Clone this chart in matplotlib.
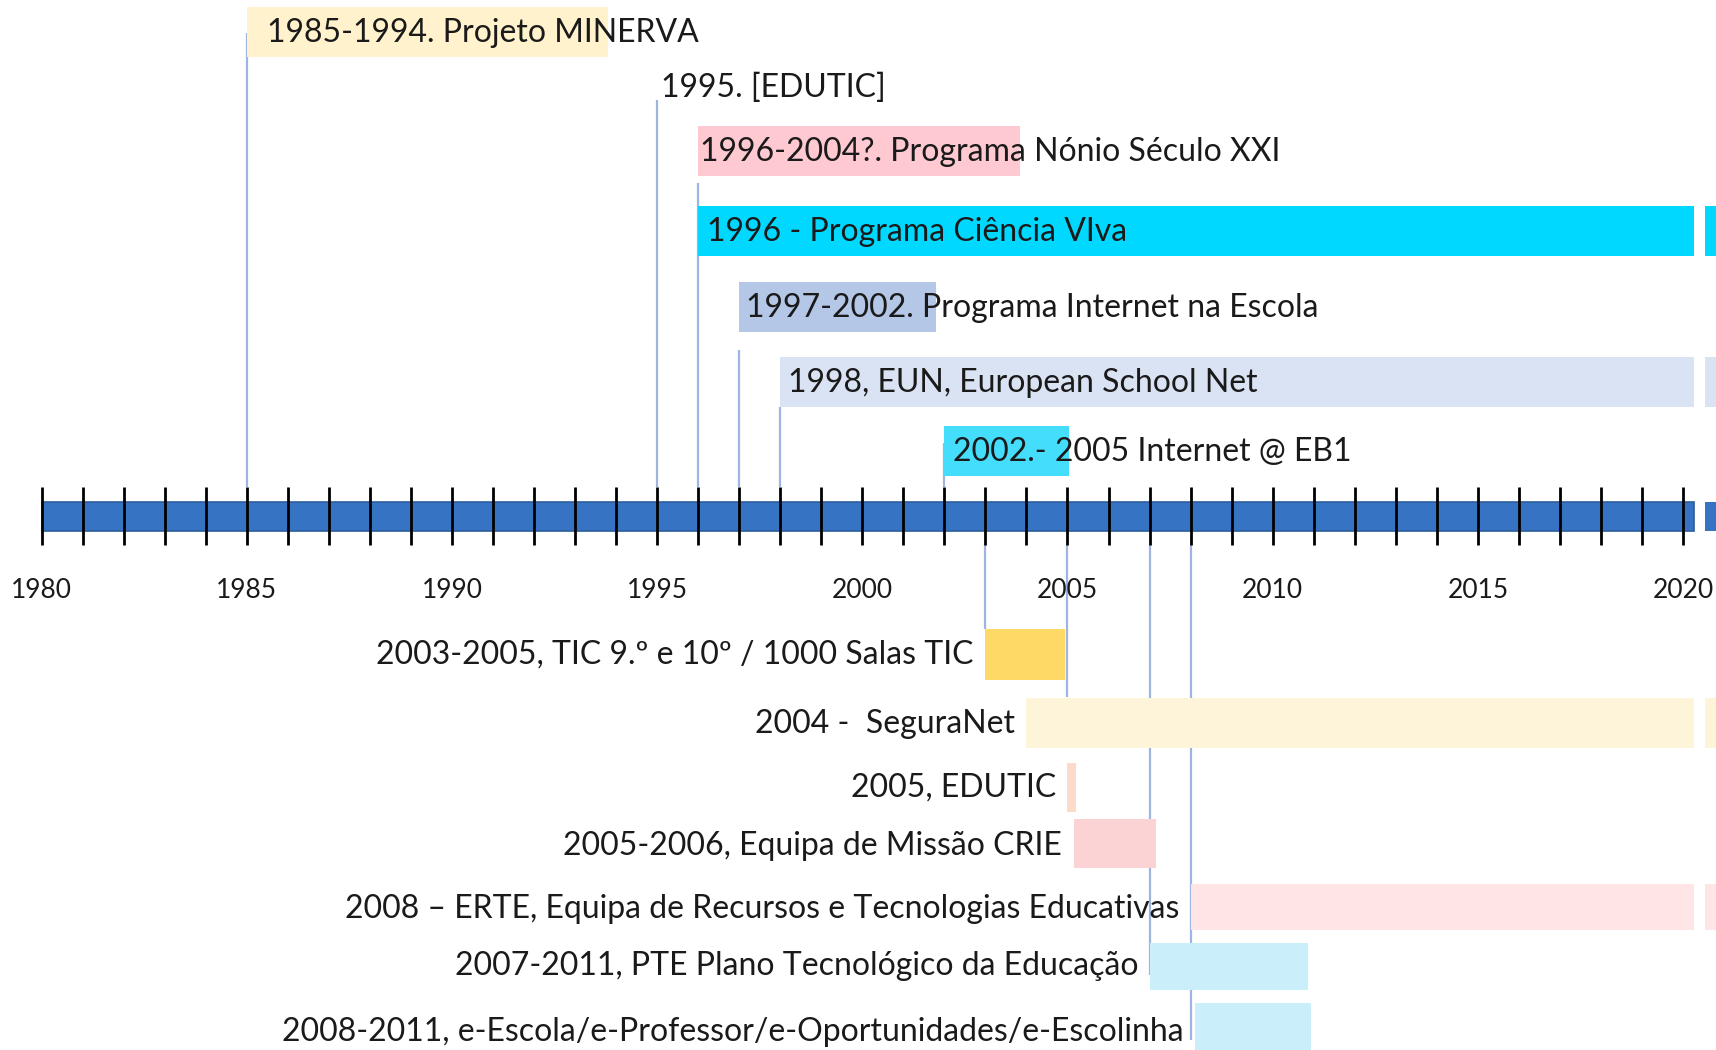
import numpy as np
import matplotlib.pyplot as plt

plt.rcParams['font.family'] = ['Lato', 'DejaVu Sans']

# ---------------------------------
# Data
# ---------------------------------
years = np.arange(1980, 2021)
year_labels = np.arange(1980, 2021, 5)
axis_end = 2020.27  # the timeline is cut off at the right edge

top_labels = [
    "1985-1994. Projeto MINERVA",
    "1995. [EDUTIC]",
    "1996-2004?. Programa Nónio Século XXI",
    "1996 - Programa Ciência VIva",
    "1997-2002. Programa Internet na Escola",
    "1998, EUN, European School Net",
    "2002.- 2005 Internet @ EB1",
]
top_start = [1985, 1995, 1996, 1996, 1997, 1998, 2002]
top_end = [1993.8, 1995, 2003.85, None, 2001.8, None, 2005.03]  # None = still running
top_colors = ["#FFF2CC", None, "#FFC9D1", "#00D8FF", "#B4C7E7", "#DAE3F3", "#44DEFC"]

bot_labels = [
    "2003-2005, TIC 9.º e 10º / 1000 Salas TIC",
    "2004 -  SeguraNet",
    "2005, EDUTIC",
    "2005-2006, Equipa de Missão CRIE",
    "2008 – ERTE, Equipa de Recursos e Tecnologias Educativas",
    "2007-2011, PTE Plano Tecnológico da Educação",
    "2008-2011, e-Escola/e-Professor/e-Oportunidades/e-Escolinha",
]
bot_start = [2003, 2004, 2005, 2005.15, 2008, 2007, 2008.1]
bot_end = [2004.94, None, 2005.2, 2007.15, None, 2010.86, 2010.93]
bot_colors = ["#FFD966", "#FEF4D9", "#FCDCC8", "#FBD3D5", "#FFE5E6", "#CBEFFA", "#CBEFFA"]

bot_line_years = [2003, 2005, 2007, 2008]

# ---------------------------------
# Layout (pixel rows, y grows downward)
# ---------------------------------
W, H = 1716, 1050
px_per_year = (1683 - 41.6) / 40
x_left = 1980 - 41.6 / px_per_year
x_right = x_left + W / px_per_year

axis_y, axis_h = 516, 29
tick_top, tick_bottom = 487, 545
label_y = 590

top_rows = [31.5, 86, 151, 230.5, 307, 382, 450.5]
top_text_y = [33, 88, 152, 232, 308, 383, 452]
top_line_from = [33, 100, 183, None, 350, 407, 443]
top_pad = [0.5, 0.1, 0.05, 0.22, 0.17, 0.2, 0.2]

bot_rows = [654.5, 722.5, 787, 843.5, 907, 966.5, 1027]
bot_heights = [51, 50, 49, 49, 46, 47, 48]
bot_text_y = [655, 724, 788, 846, 909, 966, 1032]
bot_line_to = [629, 697, 975, 1040]

box_h = 50
line_color = "#9DB5E0"
text_color = "#1A1A1A"
fs = 23
sliver = 2020.54

fig = plt.figure(figsize=(W / 100, H / 100), dpi=100)
ax = fig.add_axes([0, 0, 1, 1])
ax.set_xlim(x_left, x_right)
ax.set_ylim(H, 0)
ax.axis("off")

# connector lines (behind boxes)
for x, y0 in zip(top_start, top_line_from):
    if y0 is not None:
        ax.vlines(x, y0, tick_top, color=line_color, lw=1.6, zorder=1)
for x, y1 in zip(bot_line_years, bot_line_to):
    ax.vlines(x, tick_bottom, y1, color=line_color, lw=1.6, zorder=1)

# timeline
ax.barh(axis_y, axis_end - 1980, left=1980, height=axis_h,
        color="#3673C3", edgecolor="#2C5E9E", lw=1.2, zorder=2)
ax.barh(axis_y, 1, left=sliver, height=axis_h, color="#3673C3", zorder=2)
ax.vlines(years, tick_top, tick_bottom, color="black", lw=2, zorder=3)
for y in year_labels:
    ax.text(y, label_y, str(y), ha="center", va="center",
            fontsize=19, color=text_color)


def draw_box(start, end, y, h, color):
    if color is None:
        return
    if end is None:
        ax.barh(y, axis_end - start, left=start, height=h, color=color, zorder=2)
        ax.barh(y, 1, left=sliver, height=h, color=color, zorder=2)
    else:
        ax.barh(y, end - start, left=start, height=h, color=color, zorder=2)


# events above the timeline
for lab, s, e, c, y, ty, p in zip(top_labels, top_start, top_end, top_colors,
                                   top_rows, top_text_y, top_pad):
    if e is not None and e == s:
        c = None
    draw_box(s, e, y, box_h, c)
    ax.text(s + p, ty, lab, ha="left", va="center", fontsize=fs,
            color=text_color, zorder=4)

# events below the timeline
for lab, s, e, c, y, h, ty in zip(bot_labels, bot_start, bot_end, bot_colors,
                                   bot_rows, bot_heights, bot_text_y):
    draw_box(s, e, y, h, c)
    ax.text(s - 0.28, ty, lab, ha="right", va="center", fontsize=fs,
            color=text_color, zorder=4)

fig.savefig("out.png", dpi=100)
